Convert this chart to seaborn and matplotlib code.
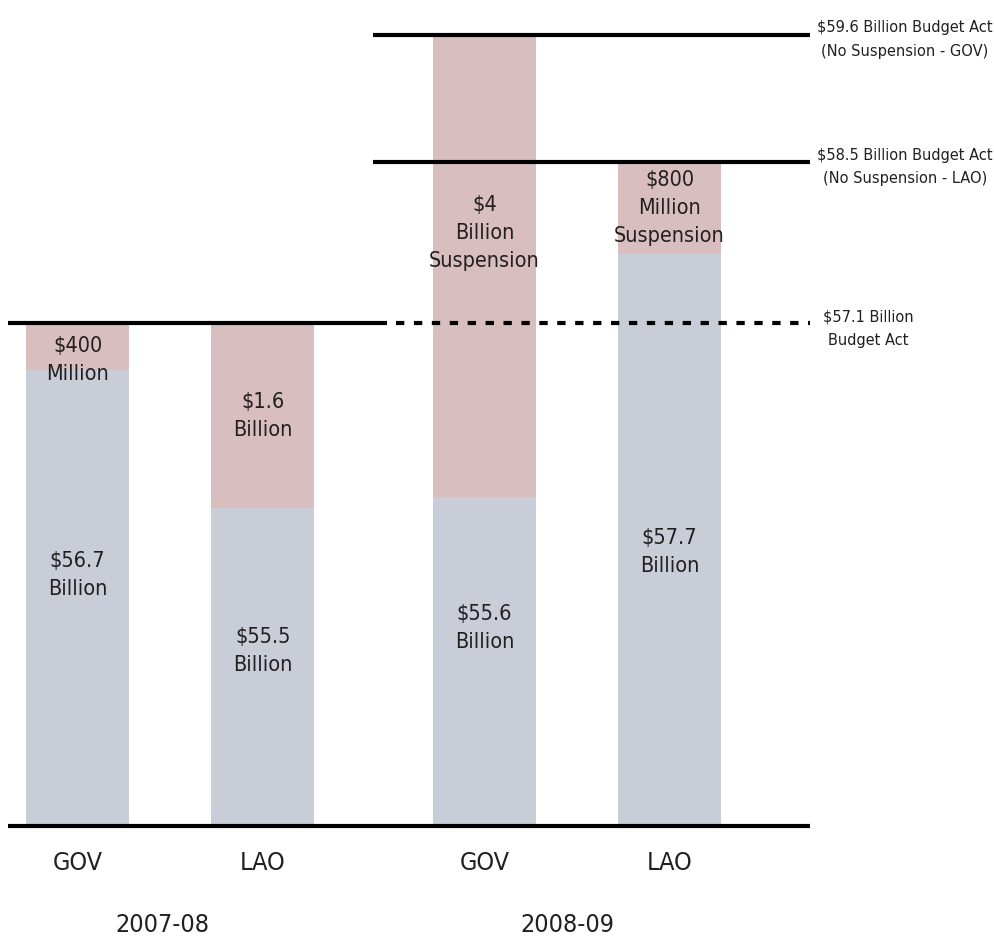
import os
import matplotlib
matplotlib.use("Agg")
import matplotlib.pyplot as plt
from matplotlib import font_manager as fm
import pandas as pd
import seaborn as sns

# General Fund spending, billions of dollars
years = ["2007-08", "2007-08", "2008-09", "2008-09"]
proposals = ["GOV", "LAO", "GOV", "LAO"]
base_billions = [56.7, 55.5, 55.6, 57.7]
suspension_billions = [0.4, 1.6, 4.0, 0.8]

# Budget Act reference levels
act_levels = [57.1, 58.5, 59.6]
act_labels = [
    "$57.1 Billion\nBudget Act",
    "$58.5 Billion Budget Act\n(No Suspension - LAO)",
    "$59.6 Billion Budget Act\n(No Suspension - GOV)",
]
year_labels = ["2007-08", "2008-09"]

sns.set_theme(style="white")
plt.rcParams["font.family"] = ["DejaVu Sans"]


def narrow_face():
    """Return the path of the narrowest suitable sans face that is installed."""
    wanted = [
        "notosans-extracondensedmedium",
        "notosans-extracondensed",
        "notosans-condensedmedium",
        "notosans-condensed",
        "liberationsansnarrow-regular",
        "dejavusanscondensed",
        "roboto-regular",
    ]
    files = {os.path.splitext(os.path.basename(f.fname))[0].lower(): f.fname
             for f in fm.fontManager.ttflist}
    for w in wanted:
        if w in files:
            return files[w]
    return None


FACE = narrow_face()


def font(size):
    if FACE:
        return fm.FontProperties(fname=FACE, size=size)
    return fm.FontProperties(family="DejaVu Sans", size=size)


BASE_COLOR = "#C9CDD8"
SUSP_COLOR = "#D9BEC0"
INK = "#231F20"

# bar slots, with a wider gap between the two fiscal years
slot = [0.0, 1.0, 2.2, 3.2]
df = pd.DataFrame({
    "slot": slot,
    "year": years,
    "proposal": proposals,
    "base": base_billions,
    "susp": suspension_billions,
})
df["total"] = df["base"] + df["susp"]

W, H = 994, 936
fig = plt.figure(figsize=(W / 100, H / 100), dpi=100)
ax = fig.add_axes([8 / W, (H - 826) / H, 802 / W, 826 / H])

# total (base + suspension) first, base drawn over it
sns.barplot(data=df, x="slot", y="total", native_scale=True, width=0.56,
            color=SUSP_COLOR, saturation=1, errorbar=None, linewidth=0,
            edgecolor="none", ax=ax, zorder=1)
sns.barplot(data=df, x="slot", y="base", native_scale=True, width=0.56,
            color=BASE_COLOR, saturation=1, errorbar=None, linewidth=0,
            edgecolor="none", ax=ax, zorder=2)

y_floor, y_top = 52.75, 59.9
ax.set_ylim(y_floor, y_top)
ax.set_xlim(-0.376, 3.959)

for s in ax.spines.values():
    s.set_visible(False)
ax.set_yticks([])
ax.set_xlabel("")
ax.set_ylabel("")
ax.set_xticks(slot)
ax.set_xticklabels(proposals, fontproperties=font(18), color=INK)
ax.tick_params(axis="x", length=0, pad=18)

# baseline
ax.axhline(y_floor, color="black", lw=3.0, zorder=5, clip_on=False,
           solid_capstyle="butt")

# Budget Act levels
ax.axhline(act_levels[0], xmin=0, xmax=0.4726, color="black", lw=3.0,
           zorder=5, solid_capstyle="butt")
ax.axhline(act_levels[0], xmin=0.484, xmax=1, color="black", lw=3.0,
           zorder=5, ls=(0, (2.0, 2.3)), dash_capstyle="butt")
for lvl in act_levels[1:]:
    ax.axhline(lvl, xmin=0.455, xmax=1, color="black", lw=3.0, zorder=5,
               solid_capstyle="butt")

label_dx = [58, 95, 95]
for lvl, txt, dx in zip(act_levels, act_labels, label_dx):
    ax.annotate(txt, xy=(1, lvl), xycoords=ax.get_yaxis_transform(),
                xytext=(dx, -5), textcoords="offset pixels",
                ha="center", va="center", fontproperties=font(11.7), color=INK,
                linespacing=1.7, annotation_clip=False)


def money(v):
    if v < 1:
        return f"${v * 1000:.0f}\nMillion"
    return f"${v:g}\nBillion"


# relative height of each label within its visible segment
base_frac = [0.55, 0.55, 0.60, 0.48]
susp_frac = [0.2, 0.5, 0.57, 0.5]

for i, row in df.iterrows():
    lo = y_floor
    yb = lo + base_frac[i] * (row["base"] - lo)
    ax.text(row["slot"], yb, money(row["base"]), ha="center", va="center",
            fontproperties=font(15.5), color=INK, linespacing=1.5, zorder=6)
    stxt = money(row["susp"])
    if row["year"] == "2008-09":
        stxt += "\nSuspension"
    ys = row["base"] + susp_frac[i] * row["susp"]
    ax.text(row["slot"], ys, stxt, ha="center", va="center",
            fontproperties=font(15.5), color=INK, linespacing=1.5, zorder=6)

# fiscal-year labels under each pair of bars
for yl, xpos in zip(year_labels, [0.46, 2.65]):
    ax.annotate(yl, xy=(xpos, y_floor), xycoords="data",
                xytext=(0, -99), textcoords="offset pixels",
                ha="center", va="center", fontproperties=font(18), color=INK,
                annotation_clip=False)

fig.savefig("out.png", dpi=100, facecolor="white")
